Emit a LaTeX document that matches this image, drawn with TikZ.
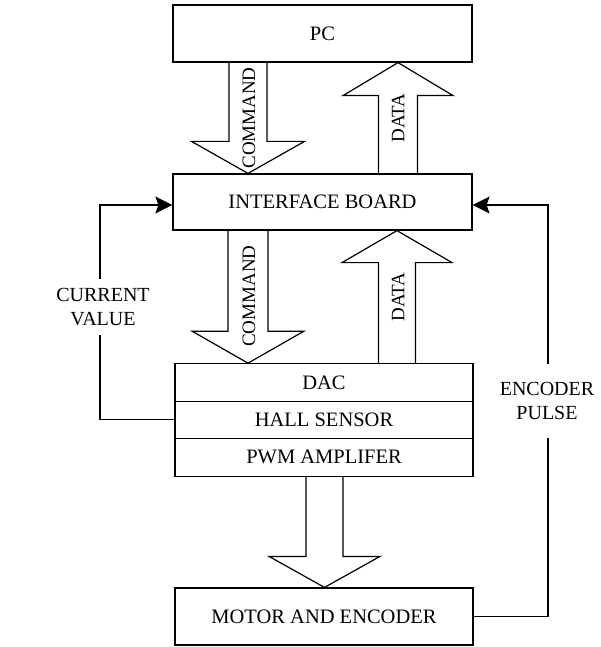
\documentclass[tikz,border=0pt]{standalone}
\usepackage{fontspec}
\setmainfont{Liberation Serif}
\usetikzlibrary{arrows.meta,calc}
\tikzset{
  box/.style={draw, line width=1.2pt, minimum width=299pt, inner sep=0pt, font=\fontsize{20.5}{23}\selectfont},
  barrow/.style={draw, line width=1.2pt, line join=miter},
  fb/.style={draw, line width=1.2pt},
  fbarrow/.style={fb, -{Stealth[length=17pt,width=17pt,inset=3pt]}},
  vlabel/.style={rotate=90, inner sep=0pt, font=\fontsize{19}{21}\selectfont},
  sidelabel/.style={fill=white, inner sep=2pt, align=center, font=\fontsize{20}{24}\selectfont},
}
\newcommand{\blockarr}[6]{%
  \draw[barrow] let \p1=(#1), \p2=(#2) in
    (#3pt-#4pt,\y1) -- (#3pt-#4pt,\y2+#6pt) -- (#3pt-#5pt,\y2+#6pt) -- (#3pt,\y2)
    -- (#3pt+#5pt,\y2+#6pt) -- (#3pt+#4pt,\y2+#6pt) -- (#3pt+#4pt,\y1);}
\begin{document}
\begin{tikzpicture}[x=1pt,y=-1pt]
\useasboundingbox (0,0) rectangle (601,647);
% boxes
\node[box, minimum height=57pt] (pc) at (322.5,33.5) {PC};
\node[box, minimum height=56pt] (iface) at (322.5,202) {INTERFACE BOARD};
\node[box, minimum width=298pt, minimum height=37.5pt] (dac) at (324,382.5) {DAC};
\node[box, minimum width=298pt, minimum height=37pt] (hall) at (324,419.75) {HALL SENSOR};
\node[box, minimum width=298pt, minimum height=38pt] (pwm) at (324,457.25) {PWM AMPLIFER};
\node[box, minimum width=298pt, minimum height=57pt] (motor) at (324,616.5) {MOTOR AND ENCODER};
% block arrows
\blockarr{pc.south}{iface.north}{248}{19}{56.5}{32}
\blockarr{iface.north}{pc.south}{398}{19.5}{55}{-33}
\blockarr{iface.south}{dac.north}{248}{20}{56}{32}
\blockarr{dac.north}{iface.south}{397}{18.5}{55}{-32}
\blockarr{pwm.south}{motor.north}{324.5}{18.5}{55.5}{31}
% block arrow labels
\node[vlabel] (cmd1) at (249,118) {COMMAND};
\node[vlabel] (dat1) at (398,118) {DATA};
\node[vlabel] (cmd2) at (249,296) {COMMAND};
\node[vlabel] (dat2) at (398,297) {DATA};
% feedback lines
\coordinate (lb) at (100,419.75);
\coordinate (lt) at (100,205);
\coordinate (rb) at (548,616.5);
\coordinate (rt) at (548,205);
\draw[fbarrow] (hall.west) -- (lb) -- (lt) -- (lt -| iface.west);
\draw[fbarrow] (motor.east) -- (rb) -- (rt) -- (rt -| iface.east);
\node[sidelabel, minimum height=56pt] (cv) at (103,307) {CURRENT\\VALUE};
\node[sidelabel, minimum height=74pt] (ep) at (547,401) {ENCODER\\PULSE};
\end{tikzpicture}
\end{document}
